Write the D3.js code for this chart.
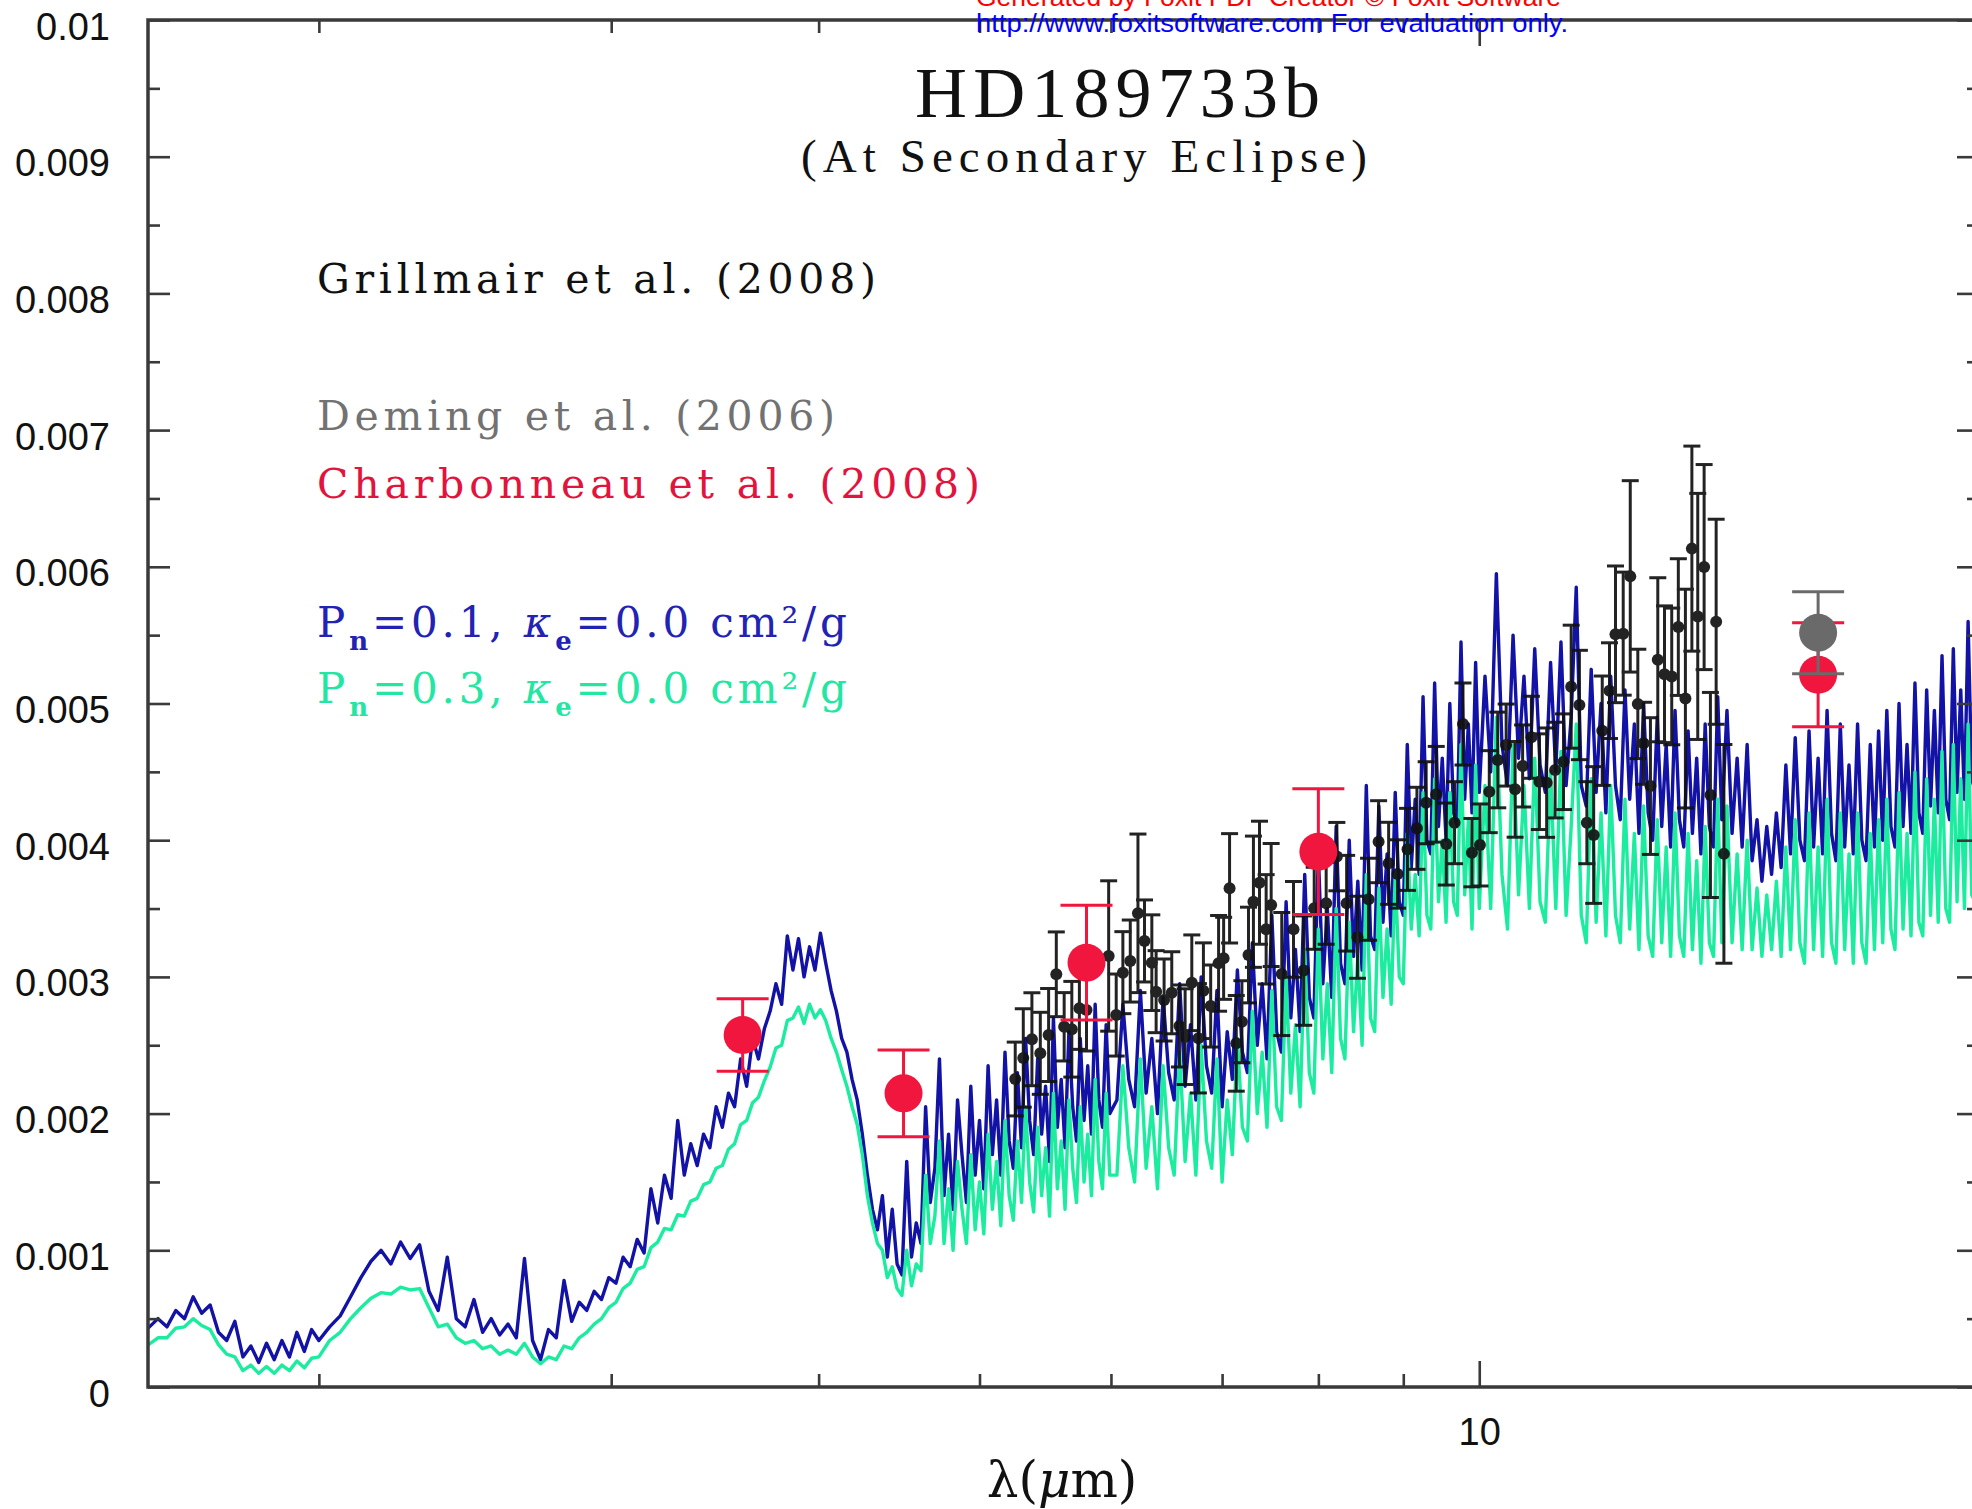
<!DOCTYPE html>
<html>
<head>
<meta charset="utf-8">
<script src="https://cdn.jsdelivr.net/npm/d3@7"></script>
<style>
  body { margin: 0; background: #fff; }
  svg { display: block; }
</style>
</head>
<body>
<script>
// ---- data (eclipse depth in units of 1e-3, wavelength in micron) ----
const xDomain = [1.578, 20];
const yDomain = [0, 0.01];
const yTickValues = [0, 0.001, 0.002, 0.003, 0.004, 0.005, 0.006, 0.007, 0.008, 0.009, 0.01];
const yTickLabels = ["0", "0.001", "0.002", "0.003", "0.004", "0.005", "0.006", "0.007", "0.008", "0.009", "0.01"];
const yMinorTicks = [0.0005, 0.0015, 0.0025, 0.0035, 0.0045, 0.0055, 0.0065, 0.0075, 0.0085, 0.0095];
const xMinorTicks = [2, 3, 4, 5, 6, 7, 8, 9];
const xMajorTicks = [10];
const xTickLabels = ["10"];

const modelWavelength = [
  1.575, 1.60, 1.62, 1.64, 1.66, 1.68, 1.70, 1.72, 1.74, 1.76, 1.78, 1.80, 1.82, 1.84, 1.86, 1.88, 1.90, 1.92, 1.94, 1.96, 1.98, 2.00,
  2.03, 2.06, 2.09, 2.12, 2.15, 2.18, 2.21, 2.24, 2.27, 2.30, 2.33, 2.36, 2.39, 2.42, 2.45, 2.48, 2.51, 2.54, 2.57, 2.60,
  2.63, 2.66, 2.69, 2.72, 2.75, 2.78, 2.81, 2.84, 2.87, 2.90, 2.93, 2.96, 2.99, 3.02, 3.05, 3.08, 3.11, 3.14, 3.17, 3.20,
  3.23, 3.26, 3.29, 3.32, 3.35, 3.38, 3.41, 3.44, 3.47, 3.50, 3.53, 3.56, 3.59, 3.62, 3.65, 3.68, 3.71, 3.74, 3.77, 3.80,
  3.83, 3.86, 3.89, 3.92, 3.95, 3.98, 4.01, 4.04, 4.07, 4.10, 4.13, 4.16, 4.19, 4.22, 4.25, 4.28, 4.31, 4.34, 4.37, 4.40,
  4.43, 4.46, 4.49, 4.52, 4.55, 4.58, 4.61, 4.64, 4.67, 4.70, 4.73, 4.76, 4.79, 4.82, 4.85, 4.88, 4.91, 4.94, 4.97, 5.00,
  5.03, 5.06, 5.09, 5.12, 5.15, 5.18, 5.21, 5.24, 5.27, 5.30, 5.33, 5.36, 5.39, 5.42, 5.45, 5.48, 5.51, 5.54, 5.57, 5.60,
  5.63, 5.66, 5.69, 5.72, 5.75, 5.78, 5.81, 5.84, 5.87, 5.90, 5.93, 5.96, 5.99,
  6.05, 6.10, 6.15, 6.20, 6.25, 6.30, 6.35, 6.40, 6.45, 6.50, 6.55, 6.60, 6.65, 6.70, 6.75, 6.80, 6.85, 6.90, 6.95, 7.00,
  7.05, 7.10, 7.15, 7.20, 7.25, 7.30, 7.35, 7.40, 7.45, 7.50, 7.55, 7.60, 7.65, 7.70, 7.75, 7.80, 7.85, 7.90, 7.95, 8.00,
  8.05, 8.10, 8.15, 8.20, 8.25, 8.30, 8.35, 8.40, 8.45, 8.50, 8.55, 8.60, 8.65, 8.70, 8.75, 8.80, 8.85, 8.90, 8.95, 9.00,
  9.05, 9.10, 9.15, 9.20, 9.25, 9.30, 9.35, 9.40, 9.45, 9.50, 9.55, 9.60, 9.65, 9.70, 9.75, 9.80, 9.85, 9.90, 9.95, 10.00,
  10.08, 10.16, 10.24, 10.32, 10.40, 10.48, 10.56, 10.64, 10.72, 10.80, 10.88, 10.96, 11.04, 11.12, 11.20, 11.28, 11.36, 11.44, 11.52, 11.60,
  11.68, 11.76, 11.84, 11.92, 12.00, 12.08, 12.16, 12.24, 12.32, 12.40, 12.48, 12.56, 12.64, 12.72, 12.80, 12.88, 12.96, 13.04, 13.12, 13.20,
  13.28, 13.36, 13.44, 13.52, 13.60, 13.68, 13.76, 13.84, 13.92, 14.00,
  14.1, 14.2, 14.3, 14.4, 14.5, 14.6, 14.7, 14.8, 14.9, 15.0, 15.1, 15.2, 15.3, 15.4, 15.5, 15.6, 15.7, 15.8, 15.9, 16.0,
  16.1, 16.2, 16.3, 16.4, 16.5, 16.6, 16.7, 16.8, 16.9, 17.0, 17.1, 17.2, 17.3, 17.4, 17.5, 17.6, 17.7, 17.8, 17.9, 18.0,
  18.1, 18.2, 18.3, 18.4, 18.5, 18.6, 18.7, 18.8, 18.9, 19.0, 19.1, 19.2, 19.3, 19.4, 19.5, 19.6, 19.7, 19.8, 19.9, 20.0, 20.1
];
// Pn=0.1, kappa_e=0.0 (blue)
const modelPn01 = [
  0.42, 0.50, 0.44, 0.56, 0.50, 0.66, 0.54, 0.60, 0.40, 0.34, 0.48, 0.22, 0.30, 0.18, 0.32, 0.20, 0.34, 0.22, 0.40, 0.26, 0.42, 0.34,
  0.44, 0.52, 0.66, 0.80, 0.92, 1.00, 0.90, 1.06, 0.94, 1.04, 0.70, 0.56, 0.95, 0.50, 0.44, 0.64, 0.40, 0.50, 0.38, 0.46,
  0.36, 0.94, 0.34, 0.20, 0.42, 0.36, 0.78, 0.48, 0.62, 0.56, 0.70, 0.64, 0.80, 0.76, 0.95, 0.88, 1.08, 0.98, 1.45, 1.20,
  1.55, 1.38, 1.95, 1.55, 1.78, 1.62, 1.85, 1.75, 2.05, 1.90, 2.15, 2.05, 2.40, 2.20, 2.55, 2.40, 2.62, 2.75, 2.95, 2.80,
  3.30, 3.05, 3.28, 3.00, 3.22, 3.05, 3.32, 3.10, 2.90, 2.75, 2.55, 2.45, 2.25, 2.10, 1.85, 1.55, 1.30, 1.15, 1.40, 0.95,
  1.30, 0.90, 0.82, 1.65, 0.95, 1.20, 1.05, 2.05, 1.35, 1.60, 2.40, 1.40, 1.85, 1.30, 2.10, 1.70, 1.35, 2.20, 1.55, 1.95,
  1.45, 2.35, 1.70, 2.10, 1.55, 2.45, 1.80, 1.60, 2.30, 1.75, 2.55, 1.95, 1.70, 2.40, 1.85, 2.20, 1.65, 2.70, 1.90, 2.25,
  1.75, 2.60, 2.05, 1.80, 2.55, 1.95, 2.35, 1.85, 2.80, 2.10, 1.90, 2.65, 2.00,
  2.10, 2.80, 2.25, 2.05, 2.90, 2.15, 2.55, 2.00, 2.85, 2.30, 2.10, 2.95, 2.20, 2.65, 2.10, 3.00, 2.35, 2.15, 2.90, 2.05,
  2.60, 2.25, 3.05, 2.45, 2.30, 3.25, 2.50, 2.95, 2.40, 3.45, 2.60, 2.45, 3.55, 2.70, 3.20, 2.60, 3.75, 2.85, 2.70, 3.90,
  2.95, 3.50, 2.85, 4.10, 3.10, 2.95, 4.00, 3.15, 3.70, 3.05, 4.40, 3.30, 3.20, 4.25, 3.40, 3.90, 3.30, 4.35, 3.55, 3.45,
  4.70, 3.80, 4.30, 3.75, 5.05, 4.00, 3.90, 5.15, 4.10, 4.60, 4.00, 5.00, 4.20, 4.10, 5.45, 4.30, 4.85, 4.20, 5.30, 4.35,
  5.20, 4.50, 5.95, 4.70, 4.40, 5.50, 4.60, 5.20, 4.45, 5.40, 4.55, 4.35, 5.30, 4.50, 5.45, 4.40, 4.90, 5.85, 4.40, 4.25,
  5.25, 4.35, 5.00, 4.20, 5.20, 4.40, 4.15, 5.10, 4.30, 4.85, 4.05, 5.00, 4.20, 4.00, 4.90, 4.10, 4.70, 3.95, 4.95, 4.15,
  3.95, 4.80, 4.05, 4.60, 3.90, 4.85, 4.10, 3.95, 5.05, 4.15,
  4.95, 4.05, 4.60, 3.95, 4.70, 3.85, 4.15, 3.70, 4.10, 3.75, 4.20, 3.80, 4.55, 3.90, 4.75, 4.00, 3.85, 4.80, 3.95, 4.60,
  3.90, 4.95, 4.05, 3.85, 4.85, 3.95, 4.55, 3.90, 4.85, 4.00, 3.85, 4.70, 3.95, 4.80, 4.00, 4.95, 4.10, 3.95, 5.00, 4.10,
  4.70, 4.05, 5.15, 4.20, 4.05, 5.10, 4.25, 4.95, 4.20, 5.35, 4.30, 4.15, 5.40, 4.35, 5.10, 4.30, 5.60, 4.45, 4.35, 5.50, 4.50
];
// Pn=0.3, kappa_e=0.0 (green)
const modelPn03 = [
  0.30, 0.36, 0.36, 0.43, 0.44, 0.50, 0.45, 0.42, 0.31, 0.24, 0.22, 0.12, 0.16, 0.10, 0.15, 0.10, 0.16, 0.12, 0.19, 0.14, 0.21, 0.22,
  0.34, 0.40, 0.50, 0.58, 0.65, 0.69, 0.68, 0.73, 0.71, 0.72, 0.58, 0.44, 0.46, 0.36, 0.32, 0.34, 0.28, 0.30, 0.24, 0.27,
  0.24, 0.32, 0.22, 0.17, 0.22, 0.20, 0.30, 0.28, 0.36, 0.40, 0.46, 0.50, 0.58, 0.62, 0.72, 0.76, 0.86, 0.88, 1.02, 1.06,
  1.16, 1.15, 1.26, 1.25, 1.36, 1.38, 1.48, 1.50, 1.60, 1.62, 1.74, 1.78, 1.92, 1.95, 2.08, 2.12, 2.24, 2.34, 2.48, 2.50,
  2.68, 2.70, 2.78, 2.66, 2.80, 2.70, 2.76, 2.68, 2.55, 2.45, 2.32, 2.20, 2.05, 1.92, 1.70, 1.40, 1.20, 1.05, 1.00, 0.80,
  0.88, 0.72, 0.67, 1.00, 0.74, 0.90, 0.85, 1.55, 1.05, 1.25, 1.80, 1.05, 1.45, 1.00, 1.65, 1.30, 1.05, 1.70, 1.15, 1.50,
  1.12, 1.85, 1.30, 1.65, 1.18, 1.95, 1.40, 1.22, 1.80, 1.35, 2.05, 1.50, 1.28, 1.90, 1.40, 1.75, 1.25, 2.15, 1.45, 1.80,
  1.30, 2.10, 1.60, 1.35, 2.05, 1.50, 1.85, 1.40, 2.25, 1.65, 1.45, 2.15, 1.55,
  1.55, 2.35, 1.75, 1.50, 2.40, 1.60, 2.05, 1.45, 2.35, 1.75, 1.55, 2.45, 1.65, 2.15, 1.55, 2.50, 1.80, 1.60, 2.40, 1.50,
  2.10, 1.70, 2.55, 1.90, 1.80, 2.75, 2.00, 2.45, 1.90, 2.90, 2.05, 1.95, 3.00, 2.15, 2.65, 2.05, 3.20, 2.30, 2.15, 3.35,
  2.40, 2.95, 2.30, 3.50, 2.55, 2.40, 3.40, 2.60, 3.15, 2.50, 3.75, 2.70, 2.60, 3.65, 2.85, 3.35, 2.80, 3.75, 3.00, 2.95,
  4.05, 3.35, 3.75, 3.30, 4.35, 3.45, 3.35, 4.45, 3.55, 4.00, 3.40, 4.35, 3.55, 3.45, 4.70, 3.60, 4.15, 3.35, 4.55, 3.50,
  4.40, 3.50, 4.90, 3.75, 3.35, 4.70, 3.60, 4.40, 3.50, 4.60, 3.55, 3.40, 4.50, 3.50, 4.65, 3.45, 4.10, 4.85, 3.45, 3.25,
  4.45, 3.40, 4.20, 3.30, 4.40, 3.45, 3.25, 4.30, 3.35, 4.05, 3.20, 4.25, 3.30, 3.15, 4.15, 3.25, 3.95, 3.15, 4.20, 3.30,
  3.15, 4.05, 3.20, 3.85, 3.10, 4.10, 3.25, 3.15, 4.30, 3.25,
  4.25, 3.25, 3.90, 3.20, 4.00, 3.20, 3.65, 3.15, 3.60, 3.20, 3.70, 3.15, 3.95, 3.20, 4.15, 3.25, 3.10, 4.20, 3.20, 3.95,
  3.15, 4.30, 3.25, 3.10, 4.20, 3.20, 3.90, 3.10, 4.20, 3.25, 3.10, 4.05, 3.20, 4.15, 3.25, 4.30, 3.35, 3.20, 4.35, 3.35,
  4.05, 3.30, 4.50, 3.40, 3.30, 4.45, 3.45, 4.30, 3.40, 4.65, 3.50, 3.40, 4.70, 3.55, 4.45, 3.50, 4.85, 3.60, 3.55, 4.80, 3.65
];

// Grillmair et al. (2008) IRS spectrum
const grillWave = [5.254, 5.313, 5.377, 5.44, 5.503, 5.562, 5.623, 5.683, 5.743, 5.80, 5.981, 6.044, 6.10, 6.163, 6.229, 6.286, 6.35, 6.388, 6.459, 6.528, 6.598, 6.65, 6.712, 6.774, 6.821, 6.89, 6.966, 7.015, 7.073, 7.139, 7.195, 7.261, 7.311, 7.373, 7.441, 7.493, 7.604, 7.729, 7.839, 7.954, 8.087, 8.208, 8.32, 8.446, 8.577, 8.697, 8.819, 8.929, 9.053, 9.172, 9.29, 9.421, 9.553, 9.663, 9.777, 9.899, 10.01, 10.14, 10.26, 10.38, 10.51, 10.62, 10.75, 10.87, 10.98, 11.11, 11.24, 11.36, 11.49, 11.61, 11.72, 11.86, 11.98, 12.08, 12.21, 12.33, 12.46, 12.56, 12.68, 12.81, 12.93, 13.06, 13.18, 13.31, 13.43, 13.54, 13.66, 13.78, 13.89, 14.04];
const grillDepth = [2.253, 2.407, 2.544, 2.441, 2.575, 3.019, 2.635, 2.617, 2.77, 2.758, 3.153, 2.721, 3.031, 3.116, 3.465, 3.263, 3.104, 2.892, 2.831, 2.884, 2.641, 2.563, 2.957, 2.551, 2.899, 2.787, 3.099, 3.136, 3.648, 2.514, 2.672, 3.16, 3.55, 3.689, 3.348, 3.526, 3.021, 3.348, 3.046, 3.502, 3.539, 3.88, 3.539, 3.29, 3.568, 3.989, 3.831, 3.753, 3.933, 4.087, 4.274, 4.336, 3.972, 4.128, 4.85, 3.909, 3.965, 4.355, 4.587, 4.696, 4.372, 4.543, 4.753, 4.428, 4.421, 4.513, 4.574, 5.123, 4.989, 4.128, 4.038, 4.801, 5.094, 5.506, 5.511, 5.93, 4.997, 4.709, 4.396, 5.32, 5.214, 5.198, 5.559, 5.036, 6.133, 5.637, 5.998, 4.331, 5.598, 3.9];
const grillErr = [0.27, 0.36, 0.34, 0.30, 0.34, 0.31, 0.25, 0.35, 0.30, 0.30, 0.55, 0.30, 0.30, 0.30, 0.58, 0.30, 0.35, 0.30, 0.30, 0.30, 0.30, 0.35, 0.35, 0.40, 0.35, 0.30, 0.35, 0.30, 0.40, 0.35, 0.30, 0.35, 0.48, 0.45, 0.40, 0.45, 0.45, 0.35, 0.40, 0.30, 0.30, 0.25, 0.35, 0.30, 0.30, 0.30, 0.30, 0.25, 0.30, 0.30, 0.30, 0.35, 0.30, 0.30, 0.30, 0.25, 0.30, 0.30, 0.35, 0.30, 0.35, 0.30, 0.30, 0.35, 0.40, 0.35, 0.35, 0.45, 0.40, 0.30, 0.50, 0.40, 0.35, 0.50, 0.45, 0.70, 0.40, 0.30, 0.50, 0.60, 0.50, 0.50, 0.50, 0.80, 0.75, 0.90, 0.75, 0.75, 0.75, 0.80];

// Charbonneau et al. (2008) IRAC/IRS photometry
const charbWave = [3.6, 4.5, 5.8, 8.0, 16];
const charbDepth = [2.575, 2.148, 3.104, 3.916, 5.21];
const charbErr = [0.265, 0.317, 0.42, 0.46, 0.38];

// Deming et al. (2006) IRS 16 micron
const demingWave = [16];
const demingDepth = [5.518];
const demingErr = [0.30];

// ---- layout ----
const W = 1972, H = 1509;
const plot = { left: 148, right: 1979, top: 20, bottom: 1387 };
const E3 = 1e-3;

const colors = {
  blue: "#1212a6",
  green: "#1cec9f",
  red: "#f0163e",
  gray: "#6a6a6a",
  black: "#111",
  axis: "#3a3a3a"
};

const svg = d3.select("body").append("svg")
  .attr("width", W)
  .attr("height", H)
  .style("font-family", "'Liberation Sans', Arial, sans-serif");

const x = d3.scaleLog().domain(xDomain).range([plot.left, plot.right]);
const y = d3.scaleLinear().domain(yDomain).range([plot.bottom, plot.top]);

svg.append("clipPath").attr("id", "plotClip")
  .append("rect")
  .attr("x", plot.left).attr("y", plot.top)
  .attr("width", plot.right - plot.left).attr("height", plot.bottom - plot.top);

// ---- model spectra ----
const models = [
  { values: modelPn01, color: colors.blue },
  { values: modelPn03, color: colors.green }
];

const line = d3.line()
  .x((d) => x(d.w))
  .y((d) => y(d.v * E3));

svg.append("g")
  .attr("clip-path", "url(#plotClip)")
  .selectAll("path")
  .data(models)
  .join("path")
  .attr("d", (m) => line(modelWavelength.map((w, i) => ({ w, v: m.values[i] }))))
  .attr("fill", "none")
  .attr("stroke", (m) => m.color)
  .attr("stroke-width", 3.4)
  .attr("stroke-linejoin", "round");

// ---- error-bar helper ----
const drawErrorPoints = (g, data, opts) => {
  g.selectAll("line.bar")
    .data(data)
    .join("line")
    .attr("class", "bar")
    .attr("x1", (d) => x(d.w)).attr("x2", (d) => x(d.w))
    .attr("y1", (d) => y((d.v + d.e) * E3)).attr("y2", (d) => y((d.v - d.e) * E3))
    .attr("stroke", opts.color)
    .attr("stroke-width", opts.width);

  g.selectAll("line.cap")
    .data(data.flatMap((d) => [{ w: d.w, v: d.v + d.e }, { w: d.w, v: d.v - d.e }]))
    .join("line")
    .attr("class", "cap")
    .attr("x1", (d) => x(d.w) - opts.cap).attr("x2", (d) => x(d.w) + opts.cap)
    .attr("y1", (d) => y(d.v * E3)).attr("y2", (d) => y(d.v * E3))
    .attr("stroke", opts.color)
    .attr("stroke-width", opts.width);

  g.selectAll("circle")
    .data(data)
    .join("circle")
    .attr("cx", (d) => x(d.w))
    .attr("cy", (d) => y(d.v * E3))
    .attr("r", opts.r)
    .attr("fill", opts.color);
};

const grillData = grillWave.map((w, i) => ({ w, v: grillDepth[i], e: grillErr[i] }));
const charbData = charbWave.map((w, i) => ({ w, v: charbDepth[i], e: charbErr[i] }));
const demingData = demingWave.map((w, i) => ({ w, v: demingDepth[i], e: demingErr[i] }));

drawErrorPoints(svg.append("g").attr("opacity", 0.92), grillData,
  { color: colors.black, width: 3, cap: 8.5, r: 6 });
drawErrorPoints(svg.append("g"), charbData,
  { color: colors.red, width: 3, cap: 26, r: 19 });
drawErrorPoints(svg.append("g"), demingData,
  { color: colors.gray, width: 3, cap: 26, r: 19 });

// ---- axes ----
const styleAxis = (g) => {
  g.select(".domain").remove();
  g.selectAll(".tick line").attr("stroke", colors.axis).attr("stroke-width", 2.6);
  g.selectAll(".tick text").attr("fill", "#111").style("font-size", "38px")
    .style("font-family", "'Liberation Sans', Arial, sans-serif");
};

svg.append("g")
  .attr("transform", `translate(${plot.left},0)`)
  .call(d3.axisLeft(y).tickValues(yTickValues).tickSize(-22).tickPadding(38)
    .tickFormat((d, i) => yTickLabels[i]))
  .call(styleAxis)
  .call((g) => g.selectAll(".tick text").attr("dy", "0.5em"));

svg.append("g")
  .attr("transform", `translate(${plot.left},0)`)
  .call(d3.axisLeft(y).tickValues(yMinorTicks).tickSize(-12).tickFormat(""))
  .call(styleAxis);

svg.append("g")
  .attr("transform", `translate(${plot.right},0)`)
  .call(d3.axisRight(y).tickValues(yTickValues).tickSize(-22).tickFormat(""))
  .call(styleAxis);

svg.append("g")
  .attr("transform", `translate(${plot.right},0)`)
  .call(d3.axisRight(y).tickValues(yMinorTicks).tickSize(-12).tickFormat(""))
  .call(styleAxis);

svg.append("g")
  .attr("transform", `translate(0,${plot.bottom})`)
  .call(d3.axisBottom(x).tickValues(xMinorTicks).tickSize(-13).tickFormat(""))
  .call(styleAxis);

svg.append("g")
  .attr("transform", `translate(0,${plot.bottom})`)
  .call(d3.axisBottom(x).tickValues(xMajorTicks).tickSize(-26).tickPadding(31)
    .tickFormat((d, i) => xTickLabels[i]))
  .call(styleAxis);

svg.append("g")
  .attr("transform", `translate(0,${plot.top})`)
  .call(d3.axisTop(x).tickValues(xMinorTicks).tickSize(-13).tickFormat(""))
  .call(styleAxis);

svg.append("g")
  .attr("transform", `translate(0,${plot.top})`)
  .call(d3.axisTop(x).tickValues(xMajorTicks).tickSize(-26).tickFormat(""))
  .call(styleAxis);

// frame
svg.append("rect")
  .attr("x", plot.left).attr("y", plot.top)
  .attr("width", plot.right - plot.left).attr("height", plot.bottom - plot.top)
  .attr("fill", "none")
  .attr("stroke", colors.axis)
  .attr("stroke-width", 3.5);

// ---- axis title ----
const xTitle = svg.append("text")
  .attr("x", 1062).attr("y", 1497)
  .attr("text-anchor", "middle")
  .style("font-family", "'DejaVu Serif', serif")
  .style("font-size", "50px")
  .attr("fill", "#111");
xTitle.append("tspan").text("λ(");
xTitle.append("tspan").style("font-style", "italic").text("μ");
xTitle.append("tspan").text("m)");

// ---- titles ----
const serif = "'Liberation Serif', 'Times New Roman', serif";
svg.append("text")
  .attr("x", 915).attr("y", 117)
  .attr("textLength", 405).attr("lengthAdjust", "spacing")
  .style("font-family", serif).style("font-size", "72px")
  .attr("fill", "#111")
  .text("HD189733b");

svg.append("text")
  .attr("x", 801).attr("y", 172)
  .attr("textLength", 566).attr("lengthAdjust", "spacing")
  .style("font-family", serif).style("font-size", "47px")
  .attr("fill", "#111")
  .text("(At Secondary Eclipse)");

// ---- legend texts ----
const legendFont = "'DejaVu Serif', serif";
const legendRows = [
  { text: "Grillmair et al. (2008)", color: "#111", y: 293, len: 559 },
  { text: "Deming et al. (2006)", color: "#727272", y: 430, len: 518 },
  { text: "Charbonneau et al. (2008)", color: "#e2133d", y: 498, len: 663 }
];
svg.append("g")
  .selectAll("text")
  .data(legendRows)
  .join("text")
  .attr("x", 317)
  .attr("y", (d) => d.y)
  .attr("textLength", (d) => d.len)
  .attr("lengthAdjust", "spacing")
  .style("font-family", legendFont)
  .style("font-size", "41px")
  .attr("fill", (d) => d.color)
  .text((d) => d.text);

const modelLegend = [
  { pn: "0.1", color: "#2222b4", y: 637 },
  { pn: "0.3", color: "#22e6a2", y: 703 }
];
modelLegend.forEach((m) => {
  const t = svg.append("text")
    .attr("x", 317).attr("y", m.y)
    .attr("textLength", 530).attr("lengthAdjust", "spacing")
    .style("font-family", legendFont)
    .style("font-size", "42px")
    .attr("fill", m.color);
  t.append("tspan").text("P");
  t.append("tspan").attr("dy", 13).style("font-size", "26px").style("font-weight", "bold").text("n");
  t.append("tspan").attr("dy", -13).text(`=${m.pn}, `);
  t.append("tspan").style("font-style", "italic").text("κ");
  t.append("tspan").attr("dy", 13).style("font-size", "26px").style("font-weight", "bold").text("e");
  t.append("tspan").attr("dy", -13).text("=0.0 cm²/g");
});

// ---- evaluation watermark ----
svg.append("text")
  .attr("x", 976).attr("y", 6)
  .attr("textLength", 585).attr("lengthAdjust", "spacingAndGlyphs")
  .style("font-size", "26px")
  .attr("fill", "#ff0000")
  .text("Generated by Foxit PDF Creator © Foxit Software");

svg.append("text")
  .attr("x", 976).attr("y", 32)
  .attr("textLength", 592).attr("lengthAdjust", "spacingAndGlyphs")
  .style("font-size", "26px")
  .attr("fill", "#0000ff")
  .text("http://www.foxitsoftware.com   For evaluation only.");
</script>
</body>
</html>
